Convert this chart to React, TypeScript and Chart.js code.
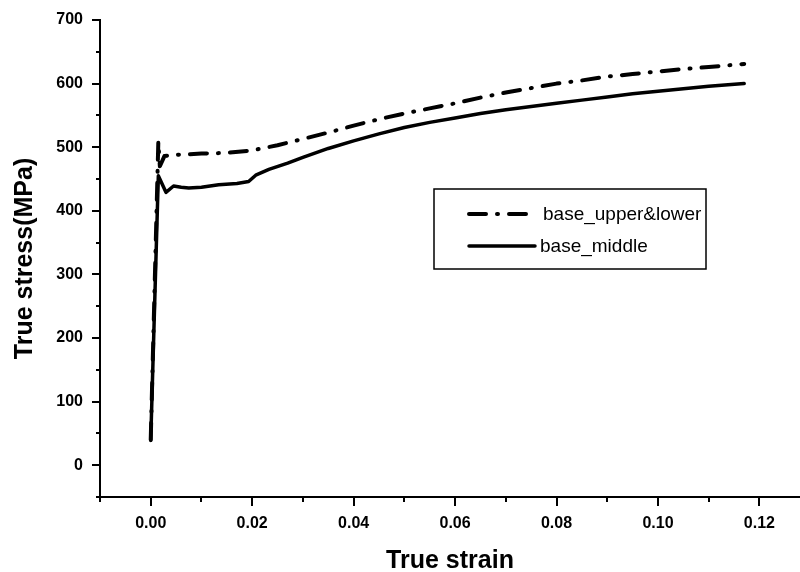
import React, { useEffect, useRef } from "react";
import { Chart, registerables } from "chart.js";

Chart.register(...registerables);

// True strain / true stress samples for the two base-metal specimens
const strainUpper = [
  0, 0.0015, 0.0018, 0.0027, 0.005, 0.01, 0.015, 0.02, 0.025, 0.03, 0.035, 0.04,
  0.045, 0.05, 0.055, 0.06, 0.065, 0.07, 0.075, 0.08, 0.085, 0.09, 0.095, 0.1,
  0.105, 0.11, 0.117,
];
const stressUpper = [
  40, 509, 470, 486, 488, 490, 491, 495, 503, 513, 523, 534, 544, 553, 561, 569,
  578, 586, 593, 600, 605, 611, 615, 619, 623, 626, 631,
];

const strainMiddle = [
  0, 0.0015, 0.003, 0.0045, 0.006, 0.0075, 0.01, 0.0134, 0.017, 0.0193, 0.0207,
  0.0233, 0.027, 0.03, 0.035, 0.04, 0.045, 0.05, 0.055, 0.06, 0.065, 0.07, 0.075,
  0.08, 0.085, 0.09, 0.095, 0.1, 0.105, 0.11, 0.117,
];
const stressMiddle = [
  39, 455, 429, 439, 437, 436, 437, 441, 443, 446, 456, 465, 475, 484, 498, 510,
  521, 531, 539, 546, 553, 559, 564, 569, 574, 579, 584, 588, 592, 596, 600,
];

const seriesLabels = ["base_upper&lower", "base_middle"];

// Axis ranges and tick steps
const xMin = -0.01;
const xMax = 0.128;
const xStep = 0.01;
const yMin = -50;
const yMax = 700;
const yStep = 50;

const FONT = "'Liberation Sans', Arial, sans-serif";

const toPoints = (xs: number[], ys: number[]) => xs.map((x, i) => ({ x, y: ys[i] }));

const isMajorX = (v: number) => Math.round(v * 100) % 2 === 0 && v > -0.005;
const isMajorY = (v: number) => Math.round(v) % 100 === 0 && v >= 0;

// Outward tick marks: long on labelled values, short in between
const tickMarks = {
  id: "tickMarks",
  afterDraw(chart: any) {
    const { ctx } = chart;
    const xs = chart.scales.x;
    const ys = chart.scales.y;
    ctx.save();
    ctx.strokeStyle = "#000";
    ctx.lineWidth = 2;
    ctx.beginPath();
    xs.ticks.forEach((t: any) => {
      const px = Math.round(xs.getPixelForValue(t.value));
      const len = isMajorX(t.value) ? 9 : 5;
      ctx.moveTo(px, xs.top);
      ctx.lineTo(px, xs.top + len);
    });
    ys.ticks.forEach((t: any) => {
      const py = Math.round(ys.getPixelForValue(t.value));
      const len = isMajorY(t.value) ? 8 : 4;
      ctx.moveTo(ys.right, py);
      ctx.lineTo(ys.right - len, py);
    });
    ctx.stroke();
    ctx.restore();
  },
};

// Boxed legend with line samples, placed inside the plot area
const boxLegend = {
  id: "boxLegend",
  afterDraw(chart: any) {
    const { ctx, chartArea } = chart;
    const left = chartArea.left + 334;
    const top = chartArea.top + 169;
    const w = 272;
    const h = 80;
    ctx.save();
    ctx.fillStyle = "#fff";
    ctx.fillRect(left, top, w, h);
    ctx.strokeStyle = "#000";
    ctx.lineWidth = 1.5;
    ctx.strokeRect(left, top, w, h);
    ctx.font = `19px ${FONT}`;
    ctx.textBaseline = "middle";
    chart.data.datasets.forEach((ds: any, i: number) => {
      const y = top + 25 + i * 32;
      ctx.beginPath();
      ctx.strokeStyle = ds.borderColor;
      ctx.lineWidth = ds.borderWidth;
      ctx.lineCap = ds.borderCapStyle || "butt";
      ctx.setLineDash(ds.borderDash || []);
      ctx.moveTo(left + 35, y);
      ctx.lineTo(left + (i === 0 ? 93 : 101), y);
      ctx.stroke();
      ctx.setLineDash([]);
      ctx.fillStyle = "#000";
      ctx.fillText(ds.label, left + (i === 0 ? 109 : 106), y + 1);
    });
    ctx.restore();
  },
};

export default function App() {
  const canvasRef = useRef<HTMLCanvasElement | null>(null);

  useEffect(() => {
    if (!canvasRef.current) return;
    const chart = new Chart(canvasRef.current, {
      type: "line",
      data: {
        datasets: [
          {
            label: seriesLabels[0],
            data: toPoints(strainUpper, stressUpper),
            borderColor: "#000",
            borderWidth: 4,
            borderDash: [17, 11, 1, 11],
            borderCapStyle: "round",
            borderJoinStyle: "round",
            pointRadius: 0,
            tension: 0,
            fill: false,
          },
          {
            label: seriesLabels[1],
            data: toPoints(strainMiddle, stressMiddle),
            borderColor: "#000",
            borderWidth: 3.5,
            borderCapStyle: "round",
            borderJoinStyle: "round",
            pointRadius: 0,
            tension: 0,
            fill: false,
          },
        ],
      },
      options: {
        animation: false,
        responsive: false,
        maintainAspectRatio: false,
        layout: { padding: { top: 20, right: 0, left: 0, bottom: 0 } },
        plugins: {
          legend: { display: false },
          tooltip: { enabled: false },
        },
        scales: {
          x: {
            type: "linear",
            min: xMin,
            max: xMax,
            afterFit: (s: any) => {
              s.height = 75;
              s.paddingLeft = 0;
              s.paddingRight = 0;
            },
            ticks: {
              stepSize: xStep,
              includeBounds: false,
              autoSkip: false,
              maxRotation: 0,
              padding: 17,
              color: "#000",
              font: { family: FONT, size: 16, weight: "bold" },
              callback: (v: any) => (isMajorX(Number(v)) ? Number(v).toFixed(2) : ""),
            },
            grid: { display: true, drawOnChartArea: false, drawTicks: false },
            border: { display: true, color: "#000", width: 2 },
            title: {
              display: true,
              text: "True strain",
              color: "#000",
              font: { family: FONT, size: 25, weight: "bold", lineHeight: 0.9 },
              padding: { top: 0, bottom: 0 },
            },
          },
          y: {
            type: "linear",
            min: yMin,
            max: yMax,
            afterFit: (s: any) => {
              s.width = 100;
              s.paddingTop = 0;
              s.paddingBottom = 0;
            },
            ticks: {
              stepSize: yStep,
              includeBounds: false,
              autoSkip: false,
              padding: 17,
              color: "#000",
              font: { family: FONT, size: 16, weight: "bold" },
              callback: (v: any) => (isMajorY(Number(v)) ? String(Math.round(Number(v))) : ""),
            },
            grid: { display: true, drawOnChartArea: false, drawTicks: false },
            border: { display: true, color: "#000", width: 2 },
            title: {
              display: true,
              text: "True stress(MPa)",
              color: "#000",
              font: { family: FONT, size: 25, weight: "bold", lineHeight: 1.2 },
              padding: { top: 10, bottom: 0 },
            },
          },
        },
      },
      plugins: [tickMarks, boxLegend],
    });
    return () => chart.destroy();
  }, []);

  return (
    <div style={{ position: "absolute", left: 0, top: 0, width: 800, height: 572, background: "#fff" }}>
      <canvas ref={canvasRef} width={800} height={572} style={{ display: "block" }} />
    </div>
  );
}
